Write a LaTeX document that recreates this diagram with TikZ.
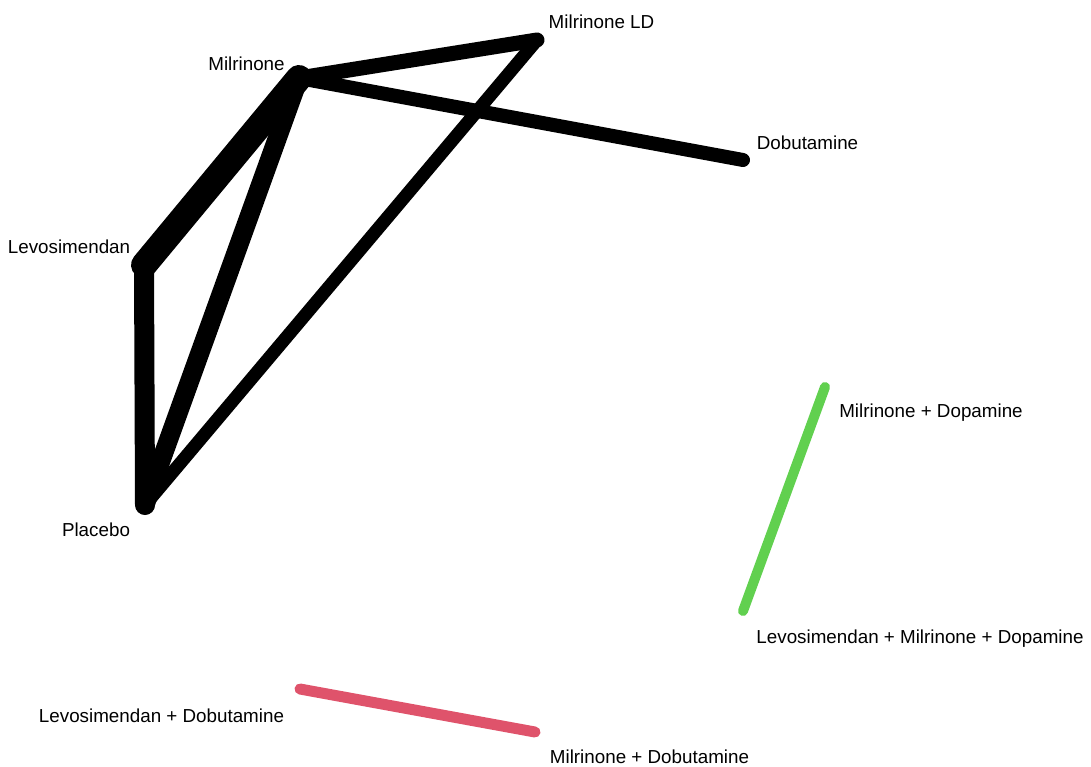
\documentclass[tikz,border=0pt]{standalone}
\usepackage{fontspec}
\setmainfont{Liberation Sans}
\definecolor{netgreen}{HTML}{61D04F}
\definecolor{netred}{HTML}{DF536B}
\tikzset{
    trt/.style={anchor=base, inner sep=0pt, font=\fontsize{18.8}{22}\selectfont},
    edge/.style={line cap=round},
}
\begin{document}
\begin{tikzpicture}[x=1pt, y=-1pt]
    \useasboundingbox (0,0) rectangle (1091,766);

    % Treatments (network points)
    \coordinate (mil) at (299,78);
    \coordinate (mld) at (537,40);
    \coordinate (dob) at (743,160);
    \coordinate (levo) at (144,265);
    \coordinate (plac) at (145,505);
    \coordinate (mdop) at (825,387);
    \coordinate (lmdop) at (743,611);
    \coordinate (ldob) at (300,689);
    \coordinate (mdob) at (535,732);

    % Edges (width ~ number of studies)
    \draw[edge, line width=26pt] (mil) -- (levo);
    \draw[edge, line width=20pt] (levo) -- (plac);
    \draw[edge, line width=19pt] (mil) -- (plac);
    \draw[edge, line width=15pt] (mil) -- (mld);
    \draw[edge, line width=13pt] (mld) -- (plac);
    \draw[edge, line width=14pt] (mil) -- (dob);
    \draw[edge, line width=10pt, netgreen] (mdop) -- (lmdop);
    \draw[edge, line width=11pt, netred] (ldob) -- (mdob);

    % Labels
    \node[trt] (milLabel) at (246.5,70) {Milrinone};
    \node[trt] (mldLabel) at (601.5,28) {Milrinone LD};
    \node[trt] (dobLabel) at (807.5,149) {Dobutamine};
    \node[trt] (levoLabel) at (69,253) {Levosimendan};
    \node[trt] (placLabel) at (96,536) {Placebo};
    \node[trt] (mdopLabel) at (931,417) {Milrinone + Dopamine};
    \node[trt] (lmdopLabel) at (920,643) {Levosimendan + Milrinone + Dopamine};
    \node[trt] (ldobLabel) at (161.5,722) {Levosimendan + Dobutamine};
    \node[trt] (mdobLabel) at (649.5,763) {Milrinone + Dobutamine};
\end{tikzpicture}
\end{document}
